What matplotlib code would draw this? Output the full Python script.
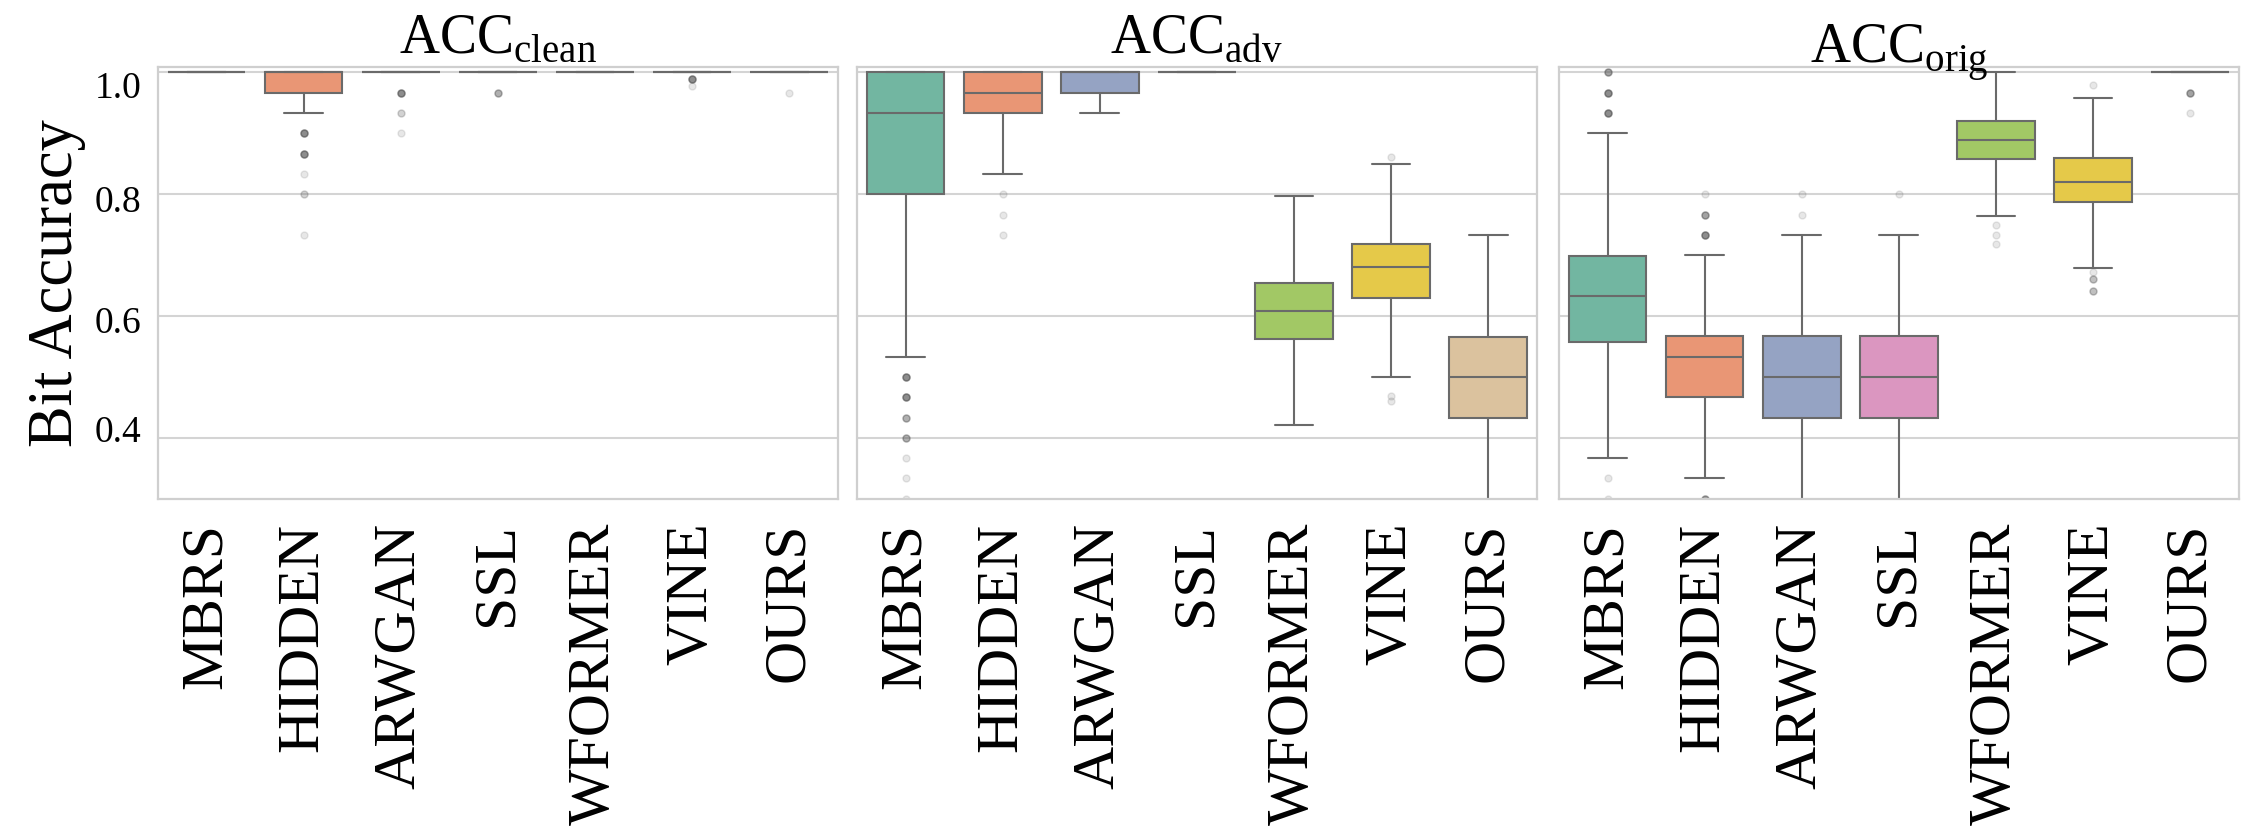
import numpy as np
import matplotlib.pyplot as plt
import matplotlib.transforms as mtransforms
import seaborn as sns

methods = ['MBRS', 'HIDDEN', 'ARWGAN', 'SSL', 'WFORMER', 'VINE', 'OURS']
titles = [r'ACC$_{\mathrm{clean}}$', r'ACC$_{\mathrm{adv}}$', r'ACC$_{\mathrm{orig}}$']
yticks = [0.4, 0.6, 0.8, 1.0]

# box statistics (q1, median, q3, whisker low/high)
clean_q1 = [1.0, 0.9667, 1.0, 1.0, 1.0, 1.0, 1.0]
clean_med = [1.0, 1.0, 1.0, 1.0, 1.0, 1.0, 1.0]
clean_q3 = [1.0, 1.0, 1.0, 1.0, 1.0, 1.0, 1.0]
clean_lo = [1.0, 0.9333, 1.0, 1.0, 1.0, 1.0, 1.0]
clean_hi = [1.0, 1.0, 1.0, 1.0, 1.0, 1.0, 1.0]
clean_fliers = [[], [0.9, 0.8667, 0.8333, 0.8, 0.7333], [0.9667, 0.9333, 0.9],
                [0.9667], [], [0.9889, 0.9778], [0.9667]]
clean_counts = [[], [7, 7, 1, 2, 1], [7, 2, 1], [4], [], [7, 1], [1]]

adv_q1 = [0.8, 0.9333, 0.9667, 1.0, 0.562, 0.629, 0.433]
adv_med = [0.9333, 0.9667, 1.0, 1.0, 0.609, 0.68, 0.5]
adv_q3 = [1.0, 1.0, 1.0, 1.0, 0.655, 0.719, 0.566]
adv_lo = [0.5333, 0.8333, 0.9333, 1.0, 0.4216, 0.5, 0.2333]
adv_hi = [1.0, 1.0, 1.0, 1.0, 0.7964, 0.85, 0.7333]
adv_fliers = [[0.5, 0.4667, 0.4333, 0.4, 0.3667, 0.3333, 0.3], [0.8, 0.7667, 0.7333],
              [], [], [], [0.8611, 0.4694, 0.4611], []]
adv_counts = [[7, 7, 4, 4, 1, 1, 1], [1, 1, 1], [], [], [], [1, 1, 1], []]

orig_q1 = [0.5577, 0.4667, 0.4333, 0.4333, 0.858, 0.787, 1.0]
orig_med = [0.633, 0.5333, 0.5, 0.5, 0.889, 0.82, 1.0]
orig_q3 = [0.699, 0.5667, 0.5667, 0.5667, 0.921, 0.859, 1.0]
orig_lo = [0.3667, 0.3333, 0.2333, 0.2333, 0.765, 0.6795, 1.0]
orig_hi = [0.9, 0.7, 0.7333, 0.7333, 1.0, 0.9587, 1.0]
orig_fliers = [[1.0, 0.9667, 0.9333, 0.3333, 0.3], [0.8, 0.7667, 0.7333, 0.3], [0.8, 0.7667],
               [0.8], [0.749, 0.7333, 0.718], [0.979, 0.6716, 0.6612, 0.641], [0.9667, 0.9333]]
orig_counts = [[5, 7, 7, 1, 1], [1, 5, 7, 5], [1, 1], [1], [1, 1, 1], [1, 1, 3, 3], [5, 1]]

panels = [
    (clean_q1, clean_med, clean_q3, clean_lo, clean_hi, clean_fliers, clean_counts),
    (adv_q1, adv_med, adv_q3, adv_lo, adv_hi, adv_fliers, adv_counts),
    (orig_q1, orig_med, orig_q3, orig_lo, orig_hi, orig_fliers, orig_counts),
]

sns.set_style('whitegrid')
plt.rcParams['font.family'] = ['Liberation Serif', 'DejaVu Serif']
plt.rcParams['mathtext.fontset'] = 'custom'
plt.rcParams['mathtext.rm'] = 'Liberation Serif'
plt.rcParams['text.color'] = 'black'
plt.rcParams['xtick.color'] = 'black'
plt.rcParams['ytick.color'] = 'black'
plt.rcParams['axes.labelcolor'] = 'black'

colors = sns.color_palette('Set2', 7, desat=0.75)
edge = '#6a6a6a'

fig = plt.figure(figsize=(22.47, 8.32), dpi=100)
lefts = [0.0703, 0.3814, 0.6938]
axes = [fig.add_axes([l, 0.4002, 0.3025, 0.5193]) for l in lefts]
title_pads = [10, 10, 3]

for i, (ax, data) in enumerate(zip(axes, panels)):
    q1, med, q3, lo, hi, fliers, counts = data
    stats = []
    for k in range(len(methods)):
        stats.append(dict(q1=q1[k], med=med[k], q3=q3[k], whislo=lo[k], whishi=hi[k],
                          fliers=np.repeat(fliers[k], counts[k]), label=methods[k]))
    bp = ax.bxp(stats, positions=range(len(methods)), widths=0.8, capwidths=0.4,
                patch_artist=True, showfliers=True,
                boxprops=dict(edgecolor=edge, linewidth=1.5),
                whiskerprops=dict(color=edge, linewidth=1.5),
                capprops=dict(color=edge, linewidth=1.5),
                medianprops=dict(color=edge, linewidth=1.5),
                flierprops=dict(marker='o', markersize=5, markerfacecolor='#555555',
                                markeredgecolor='#555555', alpha=0.14, linestyle='none'))
    for patch, c in zip(bp['boxes'], colors):
        patch.set_facecolor(c)

    ax.set_xlim(-0.5, 6.5)
    ax.set_ylim(0.2995, 1.009)
    ax.set_yticks(yticks)
    ax.set_axisbelow(True)
    ax.xaxis.grid(False)
    ax.yaxis.grid(True, color='#d4d4d4', linewidth=1.5)
    for sp in ax.spines.values():
        sp.set_color('#cfcfcf')
        sp.set_linewidth(1.6)
    ax.set_xticks(range(len(methods)))
    ax.set_xticklabels(methods, rotation=90, fontsize=43)
    ax.tick_params(axis='x', length=0, pad=17)
    ax.tick_params(axis='y', length=0, pad=12, labelsize=27)
    ax.set_title(titles[i], fontsize=40, pad=title_pads[i])
    if i > 0:
        ax.tick_params(axis='y', labelleft=False)

# the y tick labels in the original sit a little off their gridlines (points)
shifts = {0.4: 6.5, 0.6: -3.0, 0.8: -3.6, 1.0: -9.0}
for tick, val in zip(axes[0].yaxis.get_major_ticks(), yticks):
    off = mtransforms.ScaledTranslation(0, shifts[val] / 72, fig.dpi_scale_trans)
    tick.label1.set_transform(tick.label1.get_transform() + off)

axes[0].set_ylabel('Bit Accuracy', fontsize=45, labelpad=6)

fig.savefig('out.png', dpi=100)
